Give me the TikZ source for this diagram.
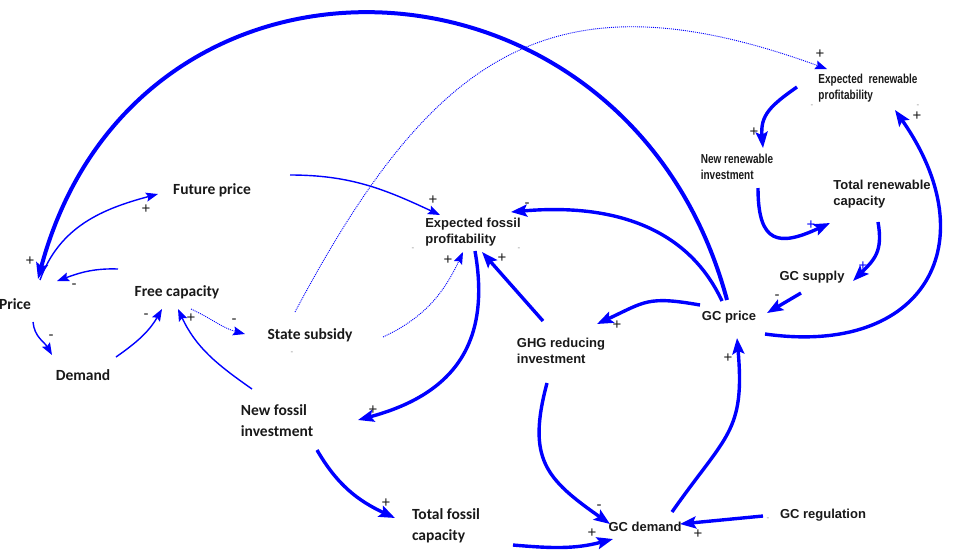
\documentclass[tikz,border=0pt]{standalone}
\usepackage{fontspec}
\newfontfamily\calfont{Carlito}
\newfontfamily\arlfont{Liberation Sans}
\newcommand\hsqueeze[1]{\scalebox{0.77}[1]{#1}}
\usetikzlibrary{arrows.meta,calc}

\begin{document}
\begin{tikzpicture}[x=1pt,y=1pt,
		cvar/.style={align=left,inner sep=0pt,text=black!90,font=\calfont\bfseries\fontsize{15.5}{21}\selectfont},
		avar/.style={align=left,inner sep=0pt,text=black!90,font=\arlfont\bfseries\fontsize{13}{16}\selectfont},
		sgn/.style={inner sep=0pt,text=black!90,font=\arlfont\fontsize{15}{15}\selectfont},
		bsgn/.style={sgn,text=blue},
		faint/.style={inner sep=0pt,text=black!45,font=\arlfont\fontsize{8}{8}\selectfont},
		lnk/.style={blue,line width=3.4pt,-{Stealth[length=16pt,width=12pt,inset=3pt]}},
		lnkthin/.style={blue,line width=1.4pt,-{Stealth[length=12pt,width=9pt,inset=2pt]}},
		lnkdot/.style={blue,line width=0.9pt,dash pattern=on 1pt off 1pt,-{Stealth[length=12pt,width=9pt,inset=2pt]}}
	]
	\useasboundingbox (0,0) rectangle (957,-550);
	% variables
	\node[cvar] (price) at (15,-304) {Price};
	\node[cvar] (demand) at (83,-375) {Demand};
	\node[cvar] (future) at (212,-190) {Future price};
	\node[cvar] (free) at (177,-292) {Free capacity};
	\node[cvar] (subsidy) at (310,-335) {State subsidy};
	\node[cvar] (nfi) at (277,-421) {New fossil\\investment};
	\node[cvar] (tfc) at (446,-526) {Total fossil\\capacity};
	\node[avar] (efp) at (473,-232) {Expected fossil\\profitability};
	\node[avar] (ghg) at (561,-351) {GHG reducing\\investment};
	\node[avar] (gcp) at (729,-317) {GC price};
	\node[avar] (gcd) at (645,-527) {GC demand};
	\node[avar] (gcr) at (823,-515) {GC regulation};
	\node[avar] (gcs) at (812,-277) {GC supply};
	\node[avar] (trc) at (882,-194) {Total renewable\\capacity};
	\node[avar] (nri) at (737,-167) {\hsqueeze{New renewable}\\\hsqueeze{investment}};
	\node[avar] (erp) at (868,-88) {\hsqueeze{Expected\ \ renewable}\\\hsqueeze{profitability}};

	% links
	\draw[lnk,line width=4pt] ($(gcp)+(-2,17)$) to[out=105,in=75,looseness=1.41] ($(price)+(23,25)$);
	\draw[lnk] ($(gcp)+(-7,16)$) to[out=115,in=5] ($(efp)+(38,20)$);
	\draw[lnkthin] ($(price)+(25,24)$) to[out=70,in=195] ($(future)+(-54,-4)$);
	\draw[lnkthin] ($(free)+(-59,23)$) to[out=178,in=20] ($(price)+(42,23)$);
	\draw[lnkthin] ($(price)+(18,-18)$) to[out=-85,in=120] ($(demand)+(-31,20)$);
	\draw[lnkthin] ($(demand)+(33,18)$) to[out=35,in=240] ($(free)+(-15,-17)$);
	\draw[lnkdot] ($(free)+(14,-17)$) to[out=-25,in=165] ($(subsidy)+(-65,1)$);
	\draw[lnkthin] ($(nfi)+(-25,32)$) to[out=145,in=-65] ($(free)+(1,-17)$);
	\draw[lnkdot] ($(subsidy)+(73,-2)$) to[out=25,in=245] ($(efp)+(-10,-20)$);
	\draw[lnkdot] ($(subsidy)+(-15,23)$) to[out=62,in=160,looseness=1.28] ($(erp)+(-41,19)$);
	\draw[lnkthin] ($(future)+(78,15)$) to[out=0,in=155] ($(efp)+(-33,17)$);
	\draw[lnk] ($(efp)+(2,-19)$) to[out=-80,in=15,looseness=1.2] ($(nfi)+(81,1)$);
	\draw[lnk] ($(ghg)+(-18,30)$) -- ($(efp)+(9,-20)$);
	\draw[lnk] ($(nfi)+(40,-29)$) to[out=-60,in=155] ($(tfc)+(-51,8)$);
	\draw[lnk] ($(tfc)+(67,-19)$) to[out=-5,in=195] ($(gcd)+(-32,-12)$);
	\draw[lnk] ($(ghg)+(-14,-32)$) to[out=-105,in=145,looseness=1.3] ($(gcd)+(-35,3)$);
	\draw[lnk] ($(gcd)+(27,15)$) to[out=55,in=-85,looseness=1.3] ($(gcp)+(8,-21)$);
	\draw[lnk] ($(gcr)+(-60,-1)$) -- ($(gcd)+(35,3)$);
	\draw[lnk] ($(gcp)+(-29,12)$) to[out=170,in=25,looseness=1.3] ($(ghg)+(36,27)$);
	\draw[lnk] ($(gcs)+(-11,-16)$) -- ($(gcp)+(38,4)$);
	\draw[lnk] ($(gcp)+(36,-17)$) to[out=-8,in=-55,looseness=1.6] ($(erp)+(27,-22)$);
	\draw[lnk] ($(erp)+(-71,1)$) to[out=215,in=95,looseness=1.2] ($(nri)+(26,19)$);
	\draw[lnk] ($(nri)+(21,-21)$) to[out=-90,in=205,looseness=1.8] ($(trc)+(-52,-29)$);
	\draw[lnk] ($(trc)+(-4,-28)$) to[out=-80,in=45,looseness=1.2] ($(gcs)+(41,-4)$);

	% polarities
	\node[sgn] (s1) at (30,-261) {+};
	\node[sgn] (s2) at (527,-205) {-};
	\node[sgn] (s3) at (146,-209) {+};
	\node[sgn] (s4) at (74,-286) {-};
	\node[sgn] (s5) at (51,-337) {-};
	\node[sgn] (s6) at (146,-316) {-};
	\node[sgn] (s7) at (234,-321) {-};
	\node[sgn] (s8) at (191,-318) {+};
	\node[sgn] (s9) at (448,-260) {+};
	\node[sgn] (s10) at (820,-54) {+};
	\node[sgn] (s11) at (433,-200) {+};
	\node[sgn] (s12) at (373,-410) {+};
	\node[sgn] (s13) at (502,-258) {+};
	\node[sgn] (s14) at (386,-503) {+};
	\node[sgn] (s15) at (592,-533) {+};
	\node[sgn] (s16) at (599,-507) {-};
	\node[sgn] (s17) at (728,-358) {+};
	\node[sgn] (s18) at (698,-534) {+};
	\node[sgn] (s19) at (617,-325) {+};
	\node[sgn] (s20) at (777,-297) {-};
	\node[sgn] (s21) at (917,-116) {+};
	\node[sgn] (s22) at (754,-132) {+};
	\node[bsgn] (s23) at (811,-225) {+};
	\node[bsgn] (s24) at (863,-266) {+};
	\node[faint] (f1) at (413,-249) {-};
	\node[faint] (f2) at (519,-249) {-};
	\node[faint] (f3) at (292,-353) {-};
	\node[faint] (f4) at (768,-519) {-};
	\node[faint] (f5) at (812,-106) {-};
	\node[faint] (f6) at (918,-106) {-};
\end{tikzpicture}
\end{document}
